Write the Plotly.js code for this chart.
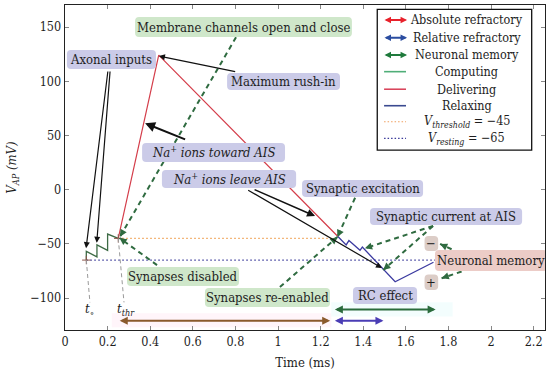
<!DOCTYPE html>
<html><head><meta charset="utf-8">
<script src="https://cdn.plot.ly/plotly-3.0.1.min.js"></script>
<style>html,body{margin:0;padding:0;background:#fff}#chart{width:550px;height:372px}</style>
</head><body><div id="chart"></div>
<script>
// ---------- data ----------
const computingT = [0.10, 0.10, 0.15, 0.15, 0.20, 0.20, 0.25];
const computingV = [-65, -57, -62, -51, -56, -41, -45];
const deliveringT = [0.25, 0.44, 1.28];
const deliveringV = [-45, 124, -43];
const relaxingT = [1.28, 1.32, 1.333, 1.385, 1.396, 1.55, 1.73];
const relaxingV = [-43, -51, -47, -56, -53, -85, -67];
const vThreshold = -45;
const vResting = -65;
const thresholdSpan = [0.25, 1.28];
const restingSpan = [0.10, 1.74];
const tZero = 0.10;
const tThr = 0.25;
const absoluteRefractory = [0.25, 1.245];
const relativeRefractory = [1.26, 1.495];
const neuronalMemory = [1.26, 1.74];
const xTicks = [0, 0.2, 0.4, 0.6, 0.8, 1, 1.2, 1.4, 1.6, 1.8, 2, 2.2];
const xTickText = ['0','0.2','0.4','0.6','0.8','1','1.2','1.4','1.6','1.8','2','2.2'];
const yTicks = [-100, -50, 0, 50, 100, 150];
const legendLabels = ['Absolute refractory','Relative refractory','Neuronal memory','Computing','Delivering','Relaxing',
  '<i>V<sub>threshold</sub></i> = \u221245','<i>V<sub>resting</sub></i> = \u221265'];

// ---------- styling ----------
const FONT = '"DejaVu Serif Condensed", "DejaVu Serif", serif';
const FS = 13;
const XR = [0, 2.2535], YR = [-129.5, 170.3];
const SX = 480 / (XR[1] - XR[0]), SY = 325 / (YR[1] - YR[0]);
const LAV = '#cbcbe8', GRN = '#cfe7ca', RED = '#ecccc7', SMALL = '#dccdc7';
const DG = '#2f6b40';
const TXT = '#1e1e1e';

const shapes = [];
const annotations = [];

// faint glow bands
shapes.push({type:'rect', layer:'below', xref:'x', yref:'y', x0:0.22, x1:1.25, y0:-127, y1:-114, fillcolor:'rgba(255,215,235,0.25)', line:{width:0}});
shapes.push({type:'rect', layer:'below', xref:'x', yref:'y', x0:1.25, x1:1.82, y0:-117, y1:-104, fillcolor:'rgba(215,250,250,0.3)', line:{width:0}});

function roundBox(x0, x1, y0, y1, fill) {
  const rx = 4 / SX, ry = 4 / SY;
  const p = `M${x0+rx},${y0} L${x1-rx},${y0} Q${x1},${y0} ${x1},${y0+ry} L${x1},${y1-ry} Q${x1},${y1} ${x1-rx},${y1} ` +
            `L${x0+rx},${y1} Q${x0},${y1} ${x0},${y1-ry} L${x0},${y0+ry} Q${x0},${y0} ${x0+rx},${y0} Z`;
  shapes.push({type:'path', layer:'above', xref:'x', yref:'y', path:p, fillcolor:fill, line:{width:0}});
}
function label(x0, x1, y0, y1, fill, text) {
  roundBox(x0, x1, y0, y1, fill);
  annotations.push({x:(x0+x1)/2, y:(y0+y1)/2, xref:'x', yref:'y', text:text, showarrow:false,
    font:{family:FONT, size:FS, color:TXT}});
}
function arrow(tx, ty, hx, hy, w) {
  annotations.push({x:hx, y:hy, ax:tx, ay:ty, xref:'x', yref:'y', axref:'x', ayref:'y', text:'', showarrow:true,
    arrowhead:2, arrowsize:1, arrowwidth:w || 1.2, arrowcolor:'#111', standoff:0, startstandoff:0});
}
function dashedArrow(tx, ty, hx, hy) {
  shapes.push({type:'line', layer:'above', xref:'x', yref:'y', x0:tx, y0:ty, x1:hx, y1:hy,
    line:{color:DG, width:2, dash:'5px,4px'}});
  const L = Math.hypot((tx-hx)*SX, (ty-hy)*SY), f = 6 / L;
  annotations.push({x:hx, y:hy, ax:hx + f*(tx-hx), ay:hy + f*(ty-hy), xref:'x', yref:'y', axref:'x', ayref:'y',
    text:'', showarrow:true, arrowhead:2, arrowsize:0.8, arrowwidth:1.8, arrowcolor:DG, standoff:0});
}
function dblArrow(a, b, y, color, size) {
  annotations.push({x:b, y:y, ax:a, ay:y, xref:'x', yref:'y', axref:'x', ayref:'y', text:'', showarrow:true,
    arrowside:'end+start', arrowhead:2, arrowsize:size || 0.8, arrowwidth:2, arrowcolor:color, standoff:0, startstandoff:0});
}

// grey leader lines to t labels
shapes.push({type:'line', xref:'x', yref:'y', x0:tZero, y0:vResting, x1:0.117, y1:-104, line:{color:'#9a9a9a', width:1, dash:'4px,3px'}});
shapes.push({type:'line', xref:'x', yref:'y', x0:tThr, y0:vThreshold, x1:0.277, y1:-104, line:{color:'#9a9a9a', width:1, dash:'4px,3px'}});

// dashed green arrows
dashedArrow(0.803, 140.5, 0.258, -43.5);   // membrane channels
dashedArrow(0.432, -69.6, 0.256, -44.6);   // synapses disabled
dashedArrow(1.362, -7.5, 1.279, -43.7);    // synaptic excitation
dashedArrow(1.009, -89.9, 1.279, -43.7);   // synapses re-enabled
dashedArrow(1.728, -33.5, 1.408, -54.2);   // synaptic current 1
dashedArrow(1.728, -33.5, 1.494, -74.2);   // synaptic current 2
dashedArrow(1.815, -55.0, 1.761, -50.1);   // memory -> minus
dashedArrow(1.862, -75.5, 1.768, -81.8);   // memory -> plus

// text boxes
label(0.329, 1.347, 140.8, 159.2, GRN, 'Membrane channels open and close');
label(0.009, 0.427, 111.3, 128.8, LAV, 'Axonal inputs');
label(0.761, 1.291, 91.9, 107.6, LAV, 'Maximum rush-in');
label(0.362, 1.033, 25.5, 43.0, LAV, '<i>Na<sup>+</sup> ions toward AIS</i>');
label(0.455, 1.085, 1.5, 18.1, LAV, '<i>Na<sup>+</sup> ions leave AIS</i>');
label(1.113, 1.681, -6.8, 8.9, LAV, 'Synaptic excitation');
label(1.432, 2.146, -32.7, -16.9, LAV, 'Synaptic current at AIS');
label(0.291, 0.817, -88.9, -71.4, GRN, 'Synapses disabled');
label(0.657, 1.244, -108.3, -90.8, GRN, 'Synapses re-enabled');
label(1.352, 1.653, -105.5, -89.9, LAV, 'RC effect');
label(1.737, 2.263, -75.1, -55.7, RED, 'Neuronal memory');
label(1.688, 1.752, -56.6, -42.8, SMALL, '\u2212');
label(1.688, 1.752, -92.6, -78.3, SMALL, '+');

// black arrows
arrow(0.202, 110.3, 0.099, -54);
arrow(0.212, 110.3, 0.149, -49);
arrow(0.806, 108.6, 0.441, 123.2);
arrow(0.571, 45.8, 0.376, 61.2, 2);
arrow(0.883, 0.6, 1.174, -24.4, 1.6);
arrow(0.853, 0.3, 1.488, -72.3, 1.2);

// t labels
annotations.push({x:0.117, y:-110.5, xref:'x', yref:'y', text:'<i>t</i><sub>\u2218</sub>', showarrow:false, font:{family:FONT, size:FS, color:TXT}});
annotations.push({x:0.285, y:-110.5, xref:'x', yref:'y', text:'<i>t<sub>thr</sub></i>', showarrow:false, font:{family:FONT, size:FS, color:TXT}});

// bottom period arrows
dblArrow(absoluteRefractory[0], absoluteRefractory[1], -121, '#8a5a2c');
dblArrow(relativeRefractory[0], relativeRefractory[1], -121, '#4a3db5');
dblArrow(neuronalMemory[0], neuronalMemory[1], -110.5, '#2a6b3c');

// ---------- custom legend ----------
const LX0 = 1.466, LX1 = 2.191, LY0 = 36.5, LY1 = 166.3;
shapes.push({type:'rect', layer:'above', xref:'x', yref:'y', x0:LX0, x1:LX1, y0:LY0, y1:LY1, fillcolor:'#fff', line:{color:'#111', width:1.3}});
const rowY = [156.5, 140.1, 124.2, 108.8, 92.6, 77.4, 62.6, 47.3];
const symA = 1.493, symB = 1.606, txtX = 1.885;
const legArrowColors = ['#e8212b', '#2b4da0', '#1f7a3c'];
legArrowColors.forEach((c, i) => dblArrow(symA, symB, rowY[i], c, 0.65));
const legLines = [{c:'#4fae78', d:'solid'}, {c:'#d9455c', d:'solid'}, {c:'#3a4a90', d:'solid'}, {c:'#f0a060', d:'1.5px,2px'}, {c:'#3a3a9a', d:'1.5px,2px'}];
legLines.forEach((s, i) => shapes.push({type:'line', layer:'above', xref:'x', yref:'y', x0:symA + 0.005, x1:symB - 0.005,
  y0:rowY[i+3], y1:rowY[i+3], line:{color:s.c, width:s.d === 'solid' ? 1.6 : 1.2, dash:s.d}}));
legendLabels.forEach((t, i) => annotations.push({x:txtX, y:rowY[i], xref:'x', yref:'y', text:t, showarrow:false,
  font:{family:FONT, size:12.5, color:TXT}}));

// ---------- traces ----------
const traces = [
  {x:thresholdSpan, y:[vThreshold, vThreshold], mode:'lines', line:{color:'#f0a050', width:1.2, dash:'1.5px,2.5px'}, hoverinfo:'skip'},
  {x:restingSpan, y:[vResting, vResting], mode:'lines', line:{color:'#3a3a9a', width:1.2, dash:'1.5px,2.5px'}, hoverinfo:'skip'},
  {x:computingT, y:computingV, mode:'lines', line:{color:'#3d6b45', width:1.3}},
  {x:deliveringT, y:deliveringV, mode:'lines', line:{color:'#d43d4a', width:1.2}},
  {x:relaxingT, y:relaxingV, mode:'lines', line:{color:'#3b3aa0', width:1.3}},
  {x:[tZero, tThr], y:[vResting, vThreshold], mode:'markers', marker:{symbol:'cross-thin-open', size:6, line:{color:'#999', width:1}}}
];

const axisCommon = {showgrid:false, zeroline:false, showline:true, linecolor:'#222', linewidth:1.3, mirror:'ticks',
  ticks:'inside', ticklen:4, tickcolor:'#888', tickwidth:1, tickfont:{family:FONT, size:12.5, color:TXT}};

const layout = {
  width:550, height:372, margin:{l:65, r:5, t:5, b:42},
  paper_bgcolor:'#fff', plot_bgcolor:'#fff', showlegend:false,
  font:{family:FONT, color:TXT},
  xaxis:Object.assign({}, axisCommon, {range:XR, tickvals:xTicks, ticktext:xTickText,
    title:{text:'Time (ms)', font:{family:FONT, size:FS, color:TXT}, standoff:9}}),
  yaxis:Object.assign({}, axisCommon, {range:YR, tickvals:yTicks,
    title:{text:'<i>V<sub>AP</sub> (mV)</i>', font:{family:FONT, size:FS, color:TXT}, standoff:10}}),
  shapes:shapes, annotations:annotations
};

Plotly.newPlot('chart', traces, layout, {staticPlot:true, displayModeBar:false});
</script></body></html>
